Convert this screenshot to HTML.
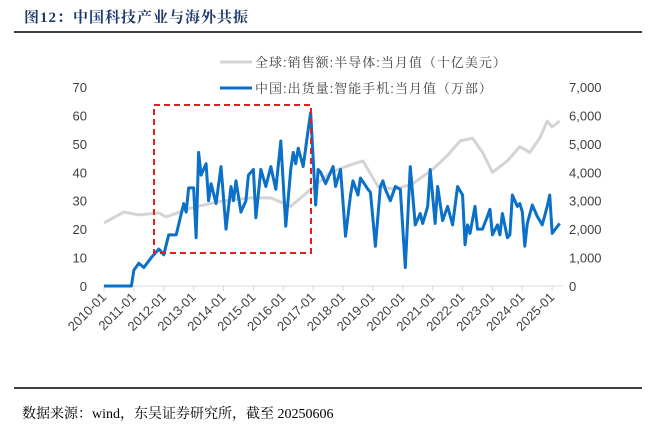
<!DOCTYPE html>
<html><head><meta charset="utf-8">
<style>
body{margin:0;background:#fff;width:660px;height:436px;overflow:hidden;font-family:"Liberation Sans","Noto Sans CJK SC",sans-serif}
#title{position:absolute;left:24px;top:6px;font-family:"Liberation Serif","Noto Serif CJK SC",serif;font-weight:bold;font-size:15px;color:#1f3b6e;letter-spacing:1px}
#src{position:absolute;left:22px;top:403px;font-family:"Liberation Serif","Noto Serif CJK SC",serif;font-size:14px;color:#000}
</style></head><body>
<div id="title">图12：中国科技产业与海外共振</div>
<svg id="c" width="660" height="436" style="position:absolute;left:0;top:0"></svg>
<div id="src">数据来源：wind，东吴证券研究所，截至 20250606</div>
<script>
const yearLabels=["2010-01","2011-01","2012-01","2013-01","2014-01","2015-01","2016-01","2017-01","2018-01","2019-01","2020-01","2021-01","2022-01","2023-01","2024-01","2025-01"];
const leftTicks=[0,10,20,30,40,50,60,70];
const rightTicks=["0","1,000","2,000","3,000","4,000","5,000","6,000","7,000"];
// month index since 2010-01, value
const grayMonths=[0,8,14,22,25,35,48,59,67,75,83,91,97,104,110,117,124,132,138,143,148,152,156,162,167,171,175,178,180,183];
const grayValues=[22.2,26,25,25.7,24.3,27.5,30,31,31,28,34,40,42,44,35,34,36,41,46,51,52,47,40,44,49,47,52,58,56,58];
const blueMonths=[0,11,12,14,16,19,20,22,24,26,29,32,33,34,36,37,38,39,41,42,43,45,47,49,51,52,53,55,57,58,60,61,63,65,67,69,71,73,75,76,77,78,80,82,83,85,86,87,89,92,93,95,97,99,100,102,103,106,107,109,111,112,113,115,117,119,121,123,125,127,128,130,131,133,134,136,138,140,142,144,145,146,147,149,150,152,154,155,156,158,159,160,162,163,164,166,167,168,169,170,172,174,176,178,179,180,183];
const blueValues=[0,0,560,800,650,1000,1100,1300,1100,1800,1800,2900,2600,3450,3450,1700,4700,3900,4300,3000,3600,2900,4200,2000,3500,3000,3700,2600,3000,3900,4100,2400,4100,3500,4200,3400,5100,2100,4100,4700,4300,4850,4200,5500,6100,2850,4100,4000,3600,4200,3500,4100,1750,3200,3700,3200,3800,3400,3300,1400,3500,3700,3400,3000,3500,3400,650,4200,2150,2550,2200,2800,4100,2200,3500,2300,2800,2150,3500,3200,1450,2150,1850,2800,2000,2000,2450,2700,1800,2150,1800,2550,1700,1800,3200,2800,2900,2600,1400,2200,2850,2450,2150,2800,3200,1850,2200];
const NS="http://www.w3.org/2000/svg",svg=document.getElementById('c');
const x0=104,pxm=2.49,yb=286,yt=87;
const X=m=>x0+m*pxm, YL=v=>yb-(yb-yt)*v/70, YR=v=>yb-(yb-yt)*v/7000;
function mk(t,a,p){const e=document.createElementNS(NS,t);for(const k in a)e.setAttribute(k,a[k]);(p||svg).appendChild(e);return e;}
let e;
e=mk('line',{x1:14,y1:32,x2:642,y2:32,stroke:'#000','stroke-width':1.5});


e=mk('line',{x1:14,y1:388,x2:642,y2:388,stroke:'#000','stroke-width':1.5});


e=mk('line',{x1:103,y1:yb,x2:563,y2:yb,stroke:'#d9d9d9','stroke-width':1});


yearLabels.forEach((l,i)=>{const x=X(i*12);
 e=mk('line',{x1:x,y1:yb,x2:x,y2:yb+5,stroke:'#d9d9d9'});
 
 
 e=mk('text',{x:x+3,y:yb+12,'font-size':13,fill:'#404040','text-anchor':'end',transform:`rotate(-45 ${x+3} ${yb+12})`});
 e.textContent=l;
 
 
});
leftTicks.forEach(v=>{e=mk('text',{x:87,y:YL(v)+5,'font-size':13,fill:'#404040','text-anchor':'end'});e.textContent=v;
 
 });
rightTicks.forEach((l,i)=>{e=mk('text',{x:569,y:YR(i*1000)+5,'font-size':13,fill:'#404040'});e.textContent=l;
 
 });
e=mk('polyline',{points:grayMonths.map((m,i)=>X(m)+','+YL(grayValues[i])).join(' '),fill:'none',stroke:'#d4d4d4','stroke-width':3,'stroke-linejoin':'round'});


e=mk('polyline',{points:blueMonths.map((m,i)=>X(m)+','+YR(blueValues[i])).join(' '),fill:'none',stroke:'#0a70c8','stroke-width':3,'stroke-linejoin':'round'});


e=mk('rect',{x:154,y:105,width:157,height:148,fill:'none',stroke:'#e02020','stroke-width':2,'stroke-dasharray':'6,4'});


e=mk('line',{x1:220,y1:62,x2:252,y2:62,stroke:'#d4d4d4','stroke-width':3});


e=mk('text',{x:255,y:67,'font-size':13,fill:'#404040','font-family':'"Liberation Sans","Noto Serif CJK SC",serif','letter-spacing':'1'});e.textContent='全球:销售额:半导体:当月值（十亿美元）';


e=mk('line',{x1:220,y1:88,x2:252,y2:88,stroke:'#0a70c8','stroke-width':3});


e=mk('text',{x:255,y:93,'font-size':13,fill:'#404040','font-family':'"Liberation Sans","Noto Serif CJK SC",serif','letter-spacing':'1'});e.textContent='中国:出货量:智能手机:当月值（万部）';


</script>
</body></html>
